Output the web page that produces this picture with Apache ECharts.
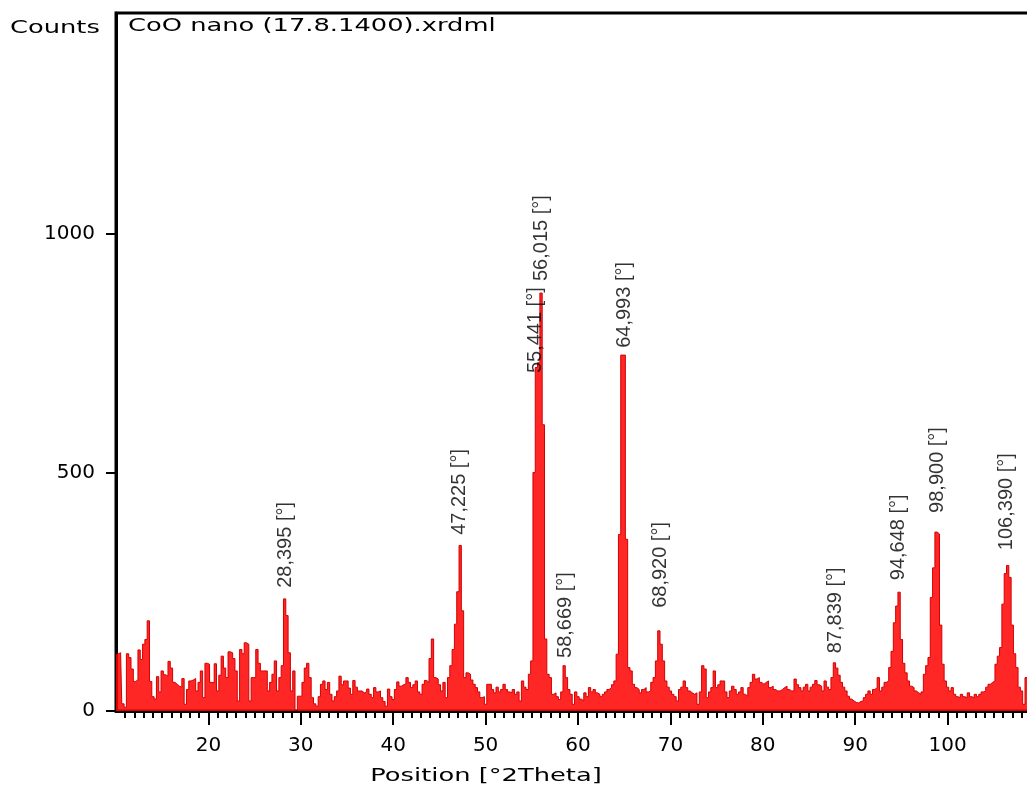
<!DOCTYPE html>
<html>
<head>
<meta charset="utf-8">
<title>CoO nano (17.8.1400).xrdml</title>
<script src="https://cdn.jsdelivr.net/npm/echarts@6/dist/echarts.min.js"></script>
<style>
  html, body { margin: 0; padding: 0; background: #fff; }
  #chart { width: 1027px; height: 787px; }
</style>
</head>
<body>
<div id="chart"></div>
<script>
// scan grid, degrees 2Theta
const scanStart = 10;
const scanStep = 0.25;

// counts, one value per 0.25 deg
const counts = [
  118, 120, 122, 15,   8, 120, 112, 88,      // 10-12
  62, 65, 128, 108,    140, 150, 189, 62,    // 12-14
  30, 25, 72, 40,      84, 76, 73, 104,      // 14-16
  90, 60, 56, 52,      50, 68, 14, 45,       // 16-18
  63, 65, 68, 42,      60, 84, 28, 100,      // 18-20
  98, 60, 59, 99,      42, 75, 115, 90,      // 20-22
  70, 124, 122, 110,   84, 21, 129, 120,     // 22-24
  143, 140, 21, 70,    70, 129, 100, 84,     // 24-26
  84, 84, 42, 60,      77, 105, 42, 70,      // 26-28
  95, 235, 200, 122,   42, 84, 0, 31,        // 28-30
  31, 60, 90, 100,     70, 28, 15, 10,       // 30-32
  30, 56, 63, 45,      60, 35, 21, 30,       // 32-34
  42, 73, 55, 63,      63, 48, 35, 64,       // 34-36
  50, 42, 42, 38,      40, 46, 35, 28,       // 36-38
  49, 40, 42, 28,      20, 10, 46, 30,       // 38-40
  24, 45, 61, 52,      55, 57, 70, 60,       // 40-42
  49, 55, 63, 40,      35, 56, 64, 60,       // 42-44
  110, 151, 70, 67,    55, 42, 60, 28,       // 44-46
  70, 95, 129, 182,    250, 347, 210, 70,    // 46-48
  80, 77, 65, 56,      49, 40, 28, 30,       // 48-50
  14, 56, 56, 45,      38, 50, 40, 45,       // 50-52
  56, 45, 40, 38,      45, 35, 40, 21,       // 52-54
  63, 50, 45, 77,      105, 500, 720, 730,   // 54-56
  876, 600, 151, 77,   70, 35, 38, 30,       // 56-58
  24, 40, 95, 70,      45, 35, 14, 40,       // 58-60
  30, 25, 21, 38,      30, 49, 40, 45,       // 60-62
  38, 35, 30, 35,      40, 45, 49, 55,       // 62-64
  63, 119, 370, 746,   746, 360, 91, 84,     // 64-66
  56, 49, 45, 38,      45, 49, 40, 42,       // 66-68
  60, 70, 105, 168,    140, 105, 63, 50,     // 68-70
  42, 35, 30, 21,      45, 50, 63, 49,       // 70-72
  42, 38, 35, 38,      14, 40, 95, 88,       // 72-74
  28, 40, 49, 84,      49, 55, 63, 63,       // 74-76
  40, 28, 42, 52,      45, 35, 40, 49,       // 76-78
  35, 31, 49, 60,      77, 67, 70, 60,       // 78-80
  56, 60, 63, 49,      52, 45, 42, 42,       // 80-82
  45, 49, 52, 45,      42, 42, 67, 55,       // 82-84
  49, 42, 50, 56,      42, 50, 56, 64,       // 84-86
  55, 52, 42, 63,      50, 45, 70, 101,      // 86-88
  90, 75, 60, 50,      42, 31, 25, 21,       // 88-90
  18, 17, 20, 21,      28, 35, 42, 35,       // 90-92
  45, 49, 70, 42,      50, 60, 63, 91,       // 92-94
  125, 185, 220, 249,  150, 100, 80, 63,     // 94-96
  52, 49, 42, 38,      35, 40, 77, 95,       // 96-98
  112, 238, 300, 375,  371, 180, 98, 63,     // 98-100
  50, 42, 49, 35,      30, 28, 35, 30,       // 100-102
  28, 38, 30, 28,      35, 30, 35, 40,       // 102-104
  42, 50, 56, 60,      63, 98, 115, 133,     // 104-106
  224, 288, 305, 280,  180, 120, 91, 50,     // 106-108
  42, 14, 70, 40,      30, 25, 30, 25,       // 108-110
  20
];

// peak list (position, height where the label sits)
const peakPositions = [28.395, 47.225, 55.441, 56.015, 58.669, 64.993, 68.920, 87.839, 94.648, 98.900, 106.390];
const peakLabelHeights = [254, 365, 704, 897, 107, 757, 212, 117, 270, 411, 333];

const xTicks = [20, 30, 40, 50, 60, 70, 80, 90, 100];
const yTicks = [0, 500, 1000];

const pattern = counts.map((c, i) => [scanStart + i * scanStep, c]);
const peaks = peakPositions.map((p, i) => [p, peakLabelHeights[i]]);

const chart = echarts.init(document.getElementById('chart'));

const textFont = 'DejaVu Sans';
const stretch = 1.43; // the original picture is widened

const option = {
  animation: false,
  backgroundColor: '#fff',
  grid: {
    left: 116,
    top: 13,
    width: 924, // plot runs past the right edge of the picture
    bottom: 76,
    outerBoundsMode: 'none',
    containLabel: false,
    show: true,
    borderColor: '#000',
    borderWidth: 3
  },
  xAxis: {
    type: 'value',
    min: 10,
    max: 110,
    interval: 10,
    axisLine: { lineStyle: { color: '#000', width: 3 } },
    axisTick: {
      show: true,
      length: 14,
      customValues: xTicks,
      lineStyle: { color: '#000', width: 2 }
    },
    minorTick: {
      show: true,
      splitNumber: 10,
      length: 7,
      lineStyle: { color: '#000', width: 2 }
    },
    axisLabel: {
      customValues: xTicks,
      color: '#000',
      fontFamily: textFont,
      fontSize: 20,
      margin: 25
    },
    splitLine: { show: false },
    minorSplitLine: { show: false }
  },
  yAxis: {
    type: 'value',
    min: 0,
    max: 1463,
    interval: 500,
    axisLine: { show: true, lineStyle: { color: '#000', width: 3 } },
    axisTick: {
      show: true,
      length: 10,
      customValues: yTicks,
      lineStyle: { color: '#000', width: 2 }
    },
    axisLabel: {
      customValues: yTicks,
      formatter: (v) => String(v),
      color: '#000',
      fontFamily: textFont,
      fontSize: 20,
      margin: 21
    },
    splitLine: { show: false }
  },
  graphic: [
    {
      type: 'text',
      x: 10,
      y: 28,
      scaleX: stretch,
      style: {
        text: 'Counts',
        font: '18px "DejaVu Sans"',
        fill: '#000',
        textAlign: 'left',
        textVerticalAlign: 'middle'
      }
    },
    {
      type: 'text',
      x: 128,
      y: 26,
      scaleX: stretch,
      style: {
        text: 'CoO nano (17.8.1400).xrdml',
        font: '18px "DejaVu Sans"',
        fill: '#000',
        textAlign: 'left',
        textVerticalAlign: 'middle'
      }
    },
    {
      type: 'text',
      x: 486,
      y: 776,
      scaleX: stretch,
      style: {
        text: 'Position [°2Theta]',
        font: '18px "DejaVu Sans"',
        fill: '#000',
        textAlign: 'center',
        textVerticalAlign: 'middle'
      }
    }
  ],
  series: [
    {
      name: 'CoO nano',
      type: 'line',
      data: pattern,
      step: 'middle',
      symbol: 'none',
      sampling: null,
      lineStyle: { color: '#d40000', width: 1 },
      areaStyle: { color: '#ff0000', opacity: 0.85 },
      z: 2
    },
    {
      name: 'peaks',
      type: 'scatter',
      data: peaks,
      symbolSize: 0,
      silent: true,
      label: {
        show: true,
        position: 'top',
        distance: 0,
        rotate: 90,
        align: 'left',
        verticalAlign: 'middle',
        offset: [2, 0],
        color: '#000',
        fontFamily: 'Liberation Sans',
        fontSize: 20,
        formatter: (p) => p.value[0].toFixed(3).replace('.', ',') + ' [°]'
      },
      z: 3
    }
  ]
};

chart.setOption(option);
</script>
</body>
</html>
